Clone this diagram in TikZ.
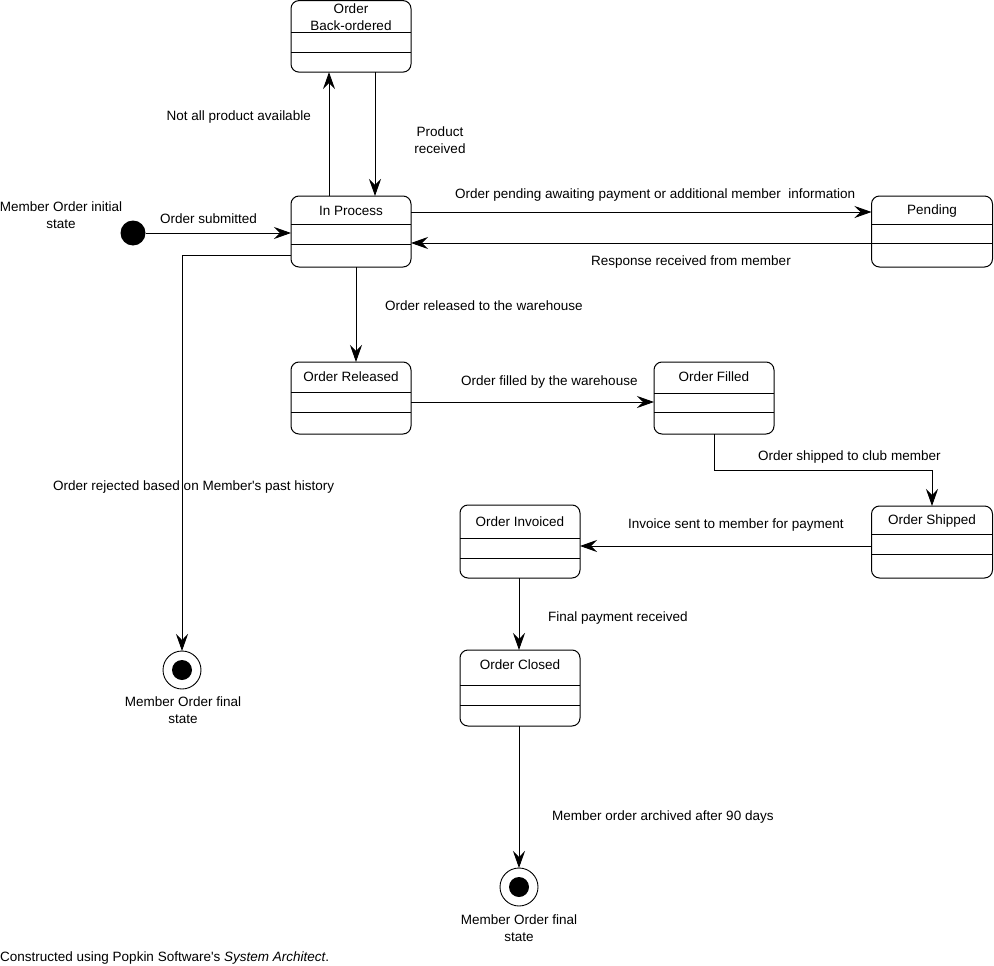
\documentclass[tikz,border=0pt]{standalone}
\usepackage{fontspec}
\setmainfont{Liberation Sans}[Ligatures=TeXOff]
\usetikzlibrary{arrows.meta,calc}
\tikzset{
  sbox/.style={draw, rounded corners=8pt, line width=1pt, minimum width=120pt, inner sep=0pt, outer sep=0pt},
  arr/.style={draw, line width=0.9pt, -{Stealth[length=17pt,width=12pt,inset=6pt]}},
  lbl/.style={inner sep=0pt, font=\fontsize{13.5}{17}\selectfont},
  mlbl/.style={lbl, align=center},
  finalst/.style={draw, circle, line width=0.9pt, minimum size=38pt, inner sep=0pt, outer sep=0pt,
     path picture={\fill (path picture bounding box.center) circle (10pt);}},
  initst/.style={circle, fill, minimum size=25pt, inner sep=0pt, outer sep=0pt}
}
% #1 name, #2 center x, #3 top y, #4 height, #5 div1, #6 div2, #7 width, #8 title y-offset, #9 title
\newcommand\stbox[9]{%
  \node[sbox, minimum height=#4pt, minimum width=#7pt] (#1) at (#2, {#3+#4/2}) {};
  \draw[line width=1pt] ([yshift=-#5pt]#1.north west) -- ([yshift=-#5pt]#1.north east);
  \draw[line width=1pt] ([yshift=-#6pt]#1.north west) -- ([yshift=-#6pt]#1.north east);
  \node[mlbl] (#1t) at ([yshift=-#8pt]#1.north) {#9};
}
\begin{document}
\begin{tikzpicture}[x=1pt,y=-1pt]
\useasboundingbox (0,0) rectangle (994,966);
% states
\stbox{bo}{351}{0.6}{71.5}{32}{52}{120}{16.5}{Order\\Back-ordered}
\stbox{ip}{351}{196}{71}{28}{48}{120}{15}{In Process}
\stbox{pend}{932}{196}{71}{28}{47}{121}{15}{Pending}
\stbox{rel}{351}{362}{72}{30}{50}{120}{15}{Order Released}
\stbox{fil}{714}{362}{72}{31}{50}{120}{15}{Order Filled}
\stbox{ship}{932}{506}{72}{28}{48}{121}{15}{Order Shipped}
\stbox{inv}{520}{505}{73}{33}{53}{120}{16.5}{Order Invoiced}
\stbox{clo}{520}{650}{76}{35}{55}{120}{15}{Order Closed}
\node[initst] (init) at (133,233) {};
\node[finalst] (fin1) at (182,670) {};
\node[finalst] (fin2) at (519,887) {};
% connectors
\draw[arr] (init) -- (init -| ip.west);
\draw[arr] ([xshift=-22pt]ip.north) -- ([xshift=-22pt]bo.south);
\draw[arr] ([xshift=24pt]bo.south) -- ([xshift=24pt]ip.north);
\draw[arr] (ip.east |- 0,212) -- (pend.west |- 0,212);
\draw[arr] (pend.west |- 0,243) -- (ip.east |- 0,243);
\draw[arr] ([xshift=5pt]ip.south) -- ([xshift=5pt]rel.north);
\draw[arr] (ip.west |- 0,255) -| (fin1.north);
\draw[arr] (rel.east |- 0,402) -- (fil.west |- 0,402);
\draw[arr] (fil.south) -- (fil.south |- 0,470) -| (ship.north);
\draw[arr] (ship.west |- 0,546) -- (inv.east |- 0,546);
\draw[arr] ([xshift=-1pt]inv.south) -- ([xshift=-1pt]clo.north);
\draw[arr] ([xshift=-1pt]clo.south) -- (fin2.north);
% labels
\node[mlbl] (linit) at (61,215) {Member Order initial\\state};
\node[lbl, anchor=west] (lsub) at (160,219) {Order submitted};
\node[lbl, anchor=east] (lnot) at (311,117) {Not all product available};
\node[mlbl] (lprod) at (440,140) {Product\\received};
\node[lbl, anchor=west] (lpen) at (455,195.5) {Order pending awaiting payment or additional member\ \ information};
\node[lbl, anchor=west] (lres) at (591,262) {Response received from member};
\node[lbl, anchor=west] (lrel) at (385,306) {Order released to the warehouse};
\node[lbl, anchor=west] (lfil) at (461,382) {Order filled by the warehouse};
\node[lbl, anchor=west] (lshp) at (758,457) {Order shipped to club member};
\node[lbl, anchor=west] (linv) at (628,525) {Invoice sent to member for payment};
\node[lbl, anchor=west] (lrej) at (53,487) {Order rejected based on Member's past history};
\node[lbl, anchor=west] (lpay) at (548,618) {Final payment received};
\node[lbl, anchor=west] (larc) at (552,817) {Member order archived after 90 days};
\node[mlbl] (lf1) at (183,710) {Member Order final\\state};
\node[mlbl] (lf2) at (519,928) {Member Order final\\state};
\node[lbl, anchor=west] (foot) at (0,958) {Constructed using Popkin Software's \textit{System Architect}.};
\end{tikzpicture}
\end{document}
